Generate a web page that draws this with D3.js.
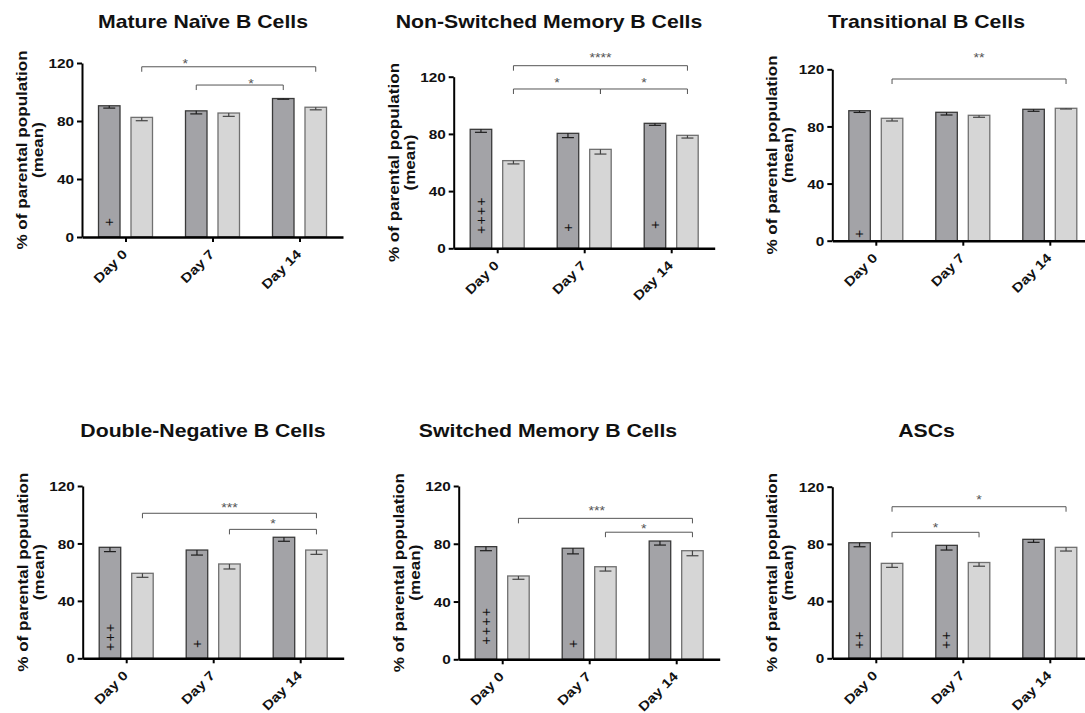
<!DOCTYPE html>
<html>
<head>
<meta charset="utf-8">
<script src="https://cdn.jsdelivr.net/npm/d3@7"></script>
<style>
  body { margin: 0; background: #fff; }
  svg { display: block; }
  text { font-family: "Liberation Sans", Arial, sans-serif; }
</style>
</head>
<body>
<script>
// categories
const days = ['Day 0', 'Day 7', 'Day 14']
const groups = ['dark', 'light']
const yTicks = [0, 40, 80, 120]

const titles = [
  'Mature Naïve B Cells',
  'Non-Switched Memory B Cells',
  'Transitional B Cells',
  'Double-Negative B Cells',
  'Switched Memory B Cells',
  'ASCs'
]

// mean values per panel (Day 0, Day 7, Day 14)
const darkMean = [
  [90.5, 87.0, 95.5],
  [83.2, 80.4, 87.4],
  [91.0, 89.9, 92.0],
  [77.3, 75.4, 84.3],
  [78.0, 76.9, 81.9],
  [80.8, 79.0, 83.2]
]
const lightMean = [
  [82.5, 85.5, 89.5],
  [61.3, 69.2, 79.0],
  [85.7, 87.8, 92.7],
  [59.2, 65.7, 75.4],
  [57.7, 64.1, 75.2],
  [66.4, 67.0, 77.6]
]
// error bars (drawn below the mean)
const darkErr = [
  [1.6, 2.1, 0.5],
  [2.1, 3.0, 1.4],
  [1.2, 1.9, 1.4],
  [3.0, 3.5, 2.8],
  [2.8, 3.9, 2.8],
  [2.8, 3.3, 2.1]
]
const lightErr = [
  [2.3, 2.3, 1.8],
  [2.3, 3.3, 1.9],
  [1.9, 1.4, 0.5],
  [2.8, 3.5, 3.0],
  [2.3, 3.0, 3.5],
  [2.8, 2.6, 2.6]
]

// significance brackets: a/b = [day index, group index], y = bracket level, ly = label level
const brackets = [
  [{ a: [0, 1], b: [2, 1], y: 117.4, ly: 120.9, at: 0.25, t: '*' },
   { a: [1, 0], b: [2, 0], y: 104.8, ly: 107.1, at: 0.63, t: '*' }],
  [{ a: [0, 1], b: [2, 1], y: 127.7, ly: 135.1, at: 0.5, t: '****' },
   { a: [0, 1], b: [1, 1], y: 111.4, ly: 117.7, at: 0.5, t: '*' },
   { a: [1, 1], b: [2, 1], y: 111.4, ly: 117.7, at: 0.5, t: '*' }],
  [{ a: [0, 1], b: [2, 1], y: 113.2, ly: 129.7, at: 0.5, t: '**' }],
  [{ a: [0, 1], b: [2, 1], y: 101.0, ly: 106.8, at: 0.5, t: '***' },
   { a: [1, 1], b: [2, 1], y: 89.8, ly: 95.1, at: 0.5, t: '*' }],
  [{ a: [0, 1], b: [2, 1], y: 97.6, ly: 104.6, at: 0.45, t: '***' },
   { a: [1, 1], b: [2, 1], y: 88.0, ly: 92.3, at: 0.44, t: '*' }],
  [{ a: [0, 1], b: [2, 1], y: 106.0, ly: 112.6, at: 0.5, t: '*' },
   { a: [0, 1], b: [1, 1], y: 88.1, ly: 92.7, at: 0.5, t: '*' }]
]

// "+" marks inside the dark bars: day index, count, level of the lowest mark
const plusMarks = [
  [{ d: 0, n: 1, y: 10.3 }],
  [{ d: 0, n: 4, y: 12.8 }, { d: 1, n: 1, y: 14.4 }, { d: 2, n: 1, y: 16.3 }],
  [{ d: 0, n: 1, y: 4.7 }],
  [{ d: 0, n: 3, y: 7.9 }, { d: 1, n: 1, y: 10.0 }],
  [{ d: 0, n: 4, y: 12.9 }, { d: 1, n: 1, y: 10.6 }],
  [{ d: 0, n: 2, y: 9.3 }, { d: 1, n: 2, y: 9.3 }]
]

// layout: y-axis x, baseline y, plot height, title centre x, title baseline y
const layout = [
  [82, 237, 174, 203, 28],
  [453.7, 248.3, 171.6, 549, 28],
  [832.3, 240.7, 171.4, 926.5, 28],
  [82.7, 658.3, 172.3, 203, 437],
  [458.7, 659.3, 173.3, 548, 437],
  [832.3, 658.3, 171.6, 926.5, 437]
]

const stretch = 1.18
const fill = { dark: '#a3a3a7', light: '#d6d6d6' }
const edge = { dark: '#3a3a3a', light: '#707070' }
const errColor = { dark: '#1e1e1e', light: '#444' }

const svg = d3.select('body').append('svg')
  .attr('width', 1085)
  .attr('height', 713)

svg.append('rect').attr('width', 1085).attr('height', 713).attr('fill', '#fff')

titles.forEach((title, i) => {
  const [ox, oy, h, tx, ty] = layout[i]

  svg.append('text')
    .attr('transform', `translate(${tx},${ty}) scale(${stretch},1)`)
    .attr('text-anchor', 'middle')
    .attr('font-size', 18)
    .attr('font-weight', 'bold')
    .attr('fill', '#111')
    .text(title)

  const g = svg.append('g').attr('transform', `translate(${ox},${oy})`)

  const y = d3.scaleLinear().domain([0, 120]).range([0, -h])
  const x0 = d3.scalePoint().domain(days).range([0, 261]).padding(0.5)
  const x1 = d3.scaleBand().domain(groups).range([-27, 27]).paddingInner(0.338)
  const bw = x1.bandwidth()
  const cx = (d, s) => x0(days[d]) + x1(groups[s]) + bw / 2

  const rows = []
  days.forEach((day, d) => {
    rows.push({ d, s: 'dark', v: darkMean[i][d], e: darkErr[i][d] })
    rows.push({ d, s: 'light', v: lightMean[i][d], e: lightErr[i][d] })
  })

  g.selectAll('rect.bar')
    .data(rows)
    .join('rect')
    .attr('class', 'bar')
    .attr('x', r => x0(days[r.d]) + x1(r.s))
    .attr('y', r => y(r.v))
    .attr('width', bw)
    .attr('height', r => y(0) - y(r.v))
    .attr('fill', r => fill[r.s])
    .attr('stroke', r => edge[r.s])
    .attr('stroke-width', 1.3)

  const err = g.selectAll('g.err')
    .data(rows)
    .join('g')
    .attr('class', 'err')
    .attr('stroke', r => errColor[r.s])
    .attr('stroke-width', 1.2)
  err.append('line')
    .attr('x1', r => x0(days[r.d]) + x1(r.s) + bw / 2)
    .attr('x2', r => x0(days[r.d]) + x1(r.s) + bw / 2)
    .attr('y1', r => y(r.v))
    .attr('y2', r => y(r.v - r.e))
  err.append('line')
    .attr('x1', r => x0(days[r.d]) + x1(r.s) + bw / 2 - 6)
    .attr('x2', r => x0(days[r.d]) + x1(r.s) + bw / 2 + 6)
    .attr('y1', r => y(r.v - r.e))
    .attr('y2', r => y(r.v - r.e))

  // plus marks: one string of "+" run upward (the glyph looks the same turned)
  plusMarks[i].forEach(pm => {
    g.append('text')
      .attr('transform', `translate(${cx(pm.d, 0)},${y(pm.y) + 4.1}) rotate(-90)`)
      .attr('dy', '0.33em')
      .attr('text-anchor', 'start')
      .attr('font-size', 14)
      .attr('letter-spacing', 1.3)
      .attr('fill', '#111')
      .text('+'.repeat(pm.n))
  })

  // significance brackets
  brackets[i].forEach(b => {
    const xa = cx(b.a[0], b.a[1])
    const xb = cx(b.b[0], b.b[1])
    const by = y(b.y)
    g.append('path')
      .attr('d', `M${xa},${by + 5}V${by}H${xb}V${by + 5}`)
      .attr('fill', 'none')
      .attr('stroke', '#555')
      .attr('stroke-width', 1)
    g.append('text')
      .attr('transform', `translate(${xa + (xb - xa) * b.at},${y(b.ly)}) scale(${stretch},1)`)
      .attr('dy', '0.55em')
      .attr('text-anchor', 'middle')
      .attr('font-size', 12)
      .attr('fill', '#555')
      .text(b.t)
  })

  // y axis
  const ya = g.append('g')
    .call(d3.axisLeft(y).tickValues(yTicks).tickFormat(d3.format('d')).tickSize(5).tickSizeOuter(0))
  ya.select('.domain').attr('stroke', '#000').attr('stroke-width', 2)
  ya.selectAll('.tick line').attr('stroke', '#000').attr('stroke-width', 2)
  ya.selectAll('.tick text')
    .attr('x', -8 / stretch)
    .attr('dy', '0.36em')
    .attr('transform', `scale(${stretch},1)`)
    .attr('font-size', 13)
    .attr('font-weight', 'bold')
    .attr('font-family', '"Liberation Sans", Arial, sans-serif')
    .attr('fill', '#111')

  // x axis
  const xa = g.append('g')
    .call(d3.axisBottom(x0).tickSize(5).tickSizeOuter(0))
  xa.select('.domain').attr('stroke', '#000').attr('stroke-width', 2.5)
  xa.selectAll('.tick line').attr('stroke', '#000').attr('stroke-width', 2)
  xa.selectAll('.tick text')
    .attr('x', 0)
    .attr('y', 0)
    .attr('dy', 0)
    .attr('text-anchor', 'end')
    .attr('transform', `translate(2,18) rotate(-45) scale(${stretch},1)`)
    .attr('font-size', 13)
    .attr('font-weight', 'bold')
    .attr('font-family', '"Liberation Sans", Arial, sans-serif')
    .attr('fill', '#111')

  // y axis title
  const ym = (y(0) + y(120)) / 2
  const yl = [['% of parental population', -60], ['(mean)', -44]]
  yl.forEach(([txt, dx]) => {
    g.append('text')
      .attr('transform', `translate(${dx},${ym}) rotate(-90) scale(1.22,1)`)
      .attr('text-anchor', 'middle')
      .attr('dominant-baseline', 'central')
      .attr('font-size', 14)
      .attr('font-weight', 'bold')
      .attr('fill', '#111')
      .text(txt)
  })
})
</script>
</body>
</html>
